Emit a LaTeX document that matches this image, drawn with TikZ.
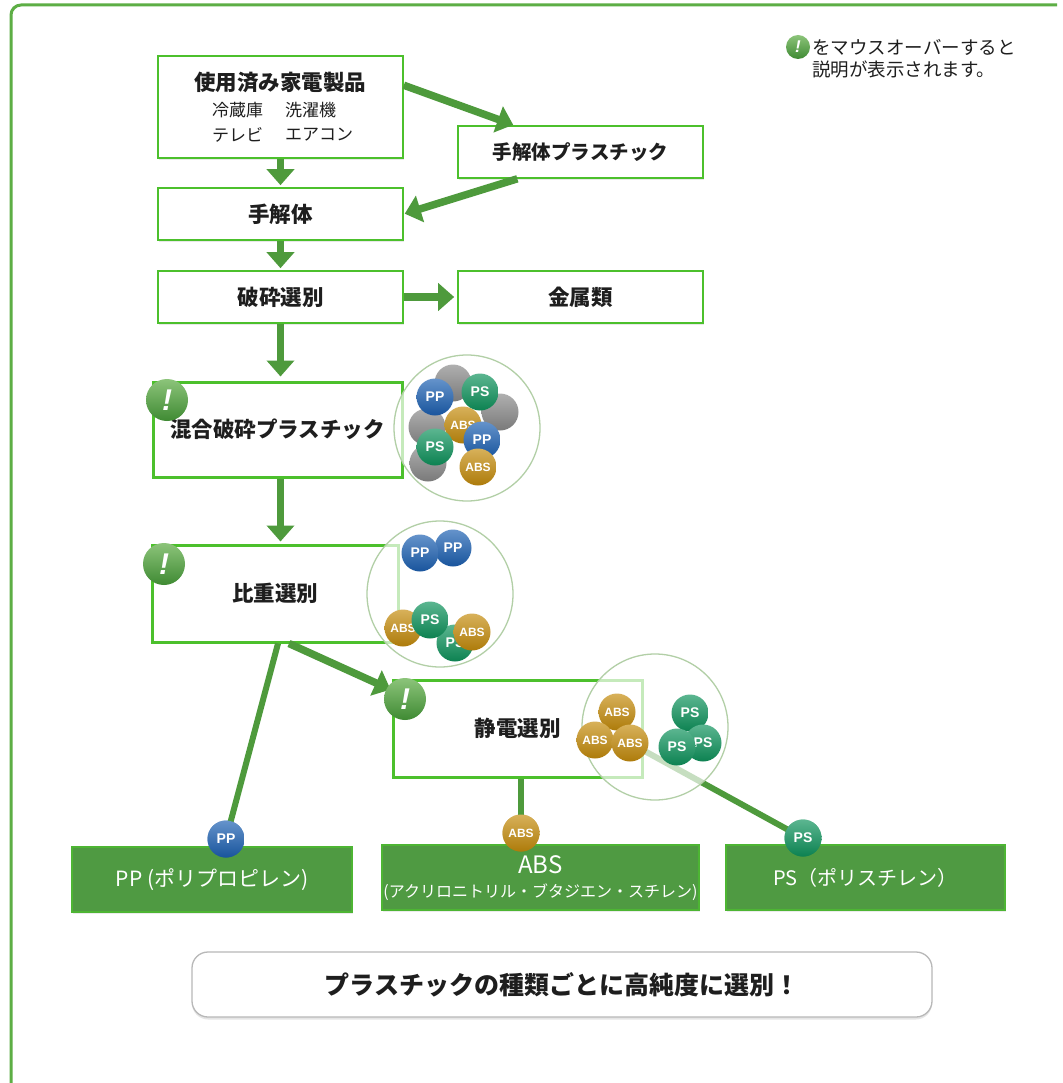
\documentclass[tikz,border=0pt]{standalone}
\usepackage{fontspec}
\setmainfont{Noto Sans CJK JP}
\newfontfamily\lsans{Liberation Sans}
\usetikzlibrary{arrows.meta,shadows,calc}

\definecolor{frameGreen}{HTML}{5DAE45}
\definecolor{boxGreen}{HTML}{4CC02C}
\definecolor{arrowGreen}{HTML}{4E9A3C}
\definecolor{fillGreen}{HTML}{4F9A42}
\definecolor{ppBlue}{HTML}{1C60B2}
\definecolor{psGreen}{HTML}{0E935C}
\definecolor{absGold}{HTML}{C58C0C}
\definecolor{stoneGray}{HTML}{8A8A8A}
\definecolor{txt}{HTML}{1E1E1E}
\definecolor{clusterEdge}{HTML}{B2CFA6}
\definecolor{alertLight}{HTML}{8CC47A}
\definecolor{alertDark}{HTML}{3F8A33}

\tikzset{
  frame/.style={draw=frameGreen, line width=3pt, rounded corners=10pt},
  flowbox/.style={draw=boxGreen, line width=1.6pt, fill=white, inner sep=0pt,
    text=txt, font=\bfseries\fontsize{21.5}{24}\selectfont,
    drop shadow={shadow xshift=1pt, shadow yshift=-2pt, opacity=0.18}},
  flowboxB/.style={flowbox, line width=3pt},
  resultbox/.style={fill=fillGreen, draw=boxGreen!70!fillGreen, line width=1.4pt,
    inner sep=0pt, text=white, font=\fontsize{21}{24}\selectfont,
    drop shadow={shadow xshift=1pt, shadow yshift=-2pt, opacity=0.15}},
  flowarrow/.style={draw=arrowGreen, line width=7.5pt, -{Triangle[width=27pt,length=16pt]}},
  feed/.style={draw=arrowGreen, line width=6pt},
  cluster/.style={circle, inner sep=0pt, minimum size=146pt, draw=clusterEdge,
    line width=1.3pt, fill=white, fill opacity=0.68},
  grain/.style={circle, inner sep=0pt, minimum size=37pt, text=white,
    font=\lsans\bfseries\fontsize{14}{14}\selectfont},
  grainCol/.style={grain, top color=#1!68!white, middle color=#1, bottom color=#1!88!black},
  grainPP/.style={grainCol=ppBlue},
  grainPS/.style={grainCol=psGreen},
  grainABS/.style={grainCol=absGold, font=\lsans\bfseries\fontsize{12}{12}\selectfont},
  grainGray/.style={grainCol=stoneGray},
  alert/.style={circle, inner sep=0pt, minimum size=42pt, shading angle=30,
    top color=alertLight, bottom color=alertDark, text=white,
    font=\lsans\bfseries\itshape\fontsize{30}{30}\selectfont},
  subtext/.style={inner sep=0pt, anchor=west, text=txt, font=\fontsize{17}{19}\selectfont},
  notetext/.style={inner sep=0pt, anchor=west, text=txt, font=\fontsize{18.5}{20}\selectfont},
}

\begin{document}
\begin{tikzpicture}[x=1pt, y=-1pt]
\useasboundingbox (0,0) rectangle (1062,1083);
\fill[white] (0,0) rectangle (1062,1083);

% outer frame
\draw[frame] (11,1095) -- (11,5) -- (1057,5);

% process boxes
\node[flowbox, minimum width=245pt, minimum height=102pt] (B1) at (280.5,107) {};
\node[inner sep=0pt, text=txt, font=\bfseries\fontsize{21.5}{24}\selectfont] (B1t) at (280,82) {使用済み家電製品};
\node[subtext] (B1a) at (212,110) {冷蔵庫};
\node[subtext] (B1b) at (285,110) {洗濯機};
\node[subtext] (B1c) at (212,135) {テレビ};
\node[subtext] (B1d) at (285,135) {エアコン};

\node[flowbox, minimum width=245pt, minimum height=52pt, font=\bfseries\fontsize{19.5}{22}\selectfont] (B2) at (580.5,152) {手解体プラスチック};
\node[flowbox, minimum width=245pt, minimum height=52pt] (B3) at (280.5,214) {手解体};
\node[flowbox, minimum width=245pt, minimum height=52pt] (B4) at (280.5,297) {破砕選別};
\node[flowbox, minimum width=245pt, minimum height=52pt] (B5) at (580.5,297) {金属類};
\node[flowboxB, minimum width=249pt, minimum height=95pt] (B6) at (277.5,429.5) {混合破砕プラスチック};
\node[flowboxB, minimum width=246pt, minimum height=97pt] (B7) at (275,593.5) {比重選別};
\node[flowboxB, minimum width=249pt, minimum height=97pt] (B8) at (517.5,728.5) {静電選別};

% result boxes
\node[resultbox, minimum width=280pt, minimum height=65pt] (RPP) at (212,879.5) {PP (ポリプロピレン)};
\node[resultbox, minimum width=317pt, minimum height=65pt] (RABS) at (540.5,877.5) {};
\node[inner sep=0pt, text=white, font=\fontsize{24}{26}\selectfont] (RABSa) at (540.5,865) {ABS};
\node[inner sep=0pt, text=white, font=\fontsize{16}{18}\selectfont] (RABSb) at (540.5,892) {(アクリロニトリル・ブタジエン・スチレン)};
\node[resultbox, minimum width=279pt, minimum height=65pt, font=\fontsize{20}{22}\selectfont] (RPS) at (865.5,877.5) {PS（ポリスチレン）};

% summary
\node[draw=black!28, line width=1.3pt, fill=white, rounded corners=16pt, inner sep=0pt,
  minimum width=740pt, minimum height=65pt, text=txt,
  font=\bfseries\fontsize{25}{28}\selectfont,
  drop shadow={shadow xshift=0pt, shadow yshift=-2.5pt, opacity=0.2}] (SUM) at (562,984.5)
  {プラスチックの種類ごとに高純度に選別！};

% flow arrows
\draw[flowarrow, shorten >=2pt] (B1.south) -- (B3.north);
\draw[flowarrow, shorten >=1pt] (B1.10) -- (B2.158);
\draw[flowarrow, shorten >=1pt] (B2.203) -- (B3.east);
\draw[flowarrow, shorten >=2pt] (B3.south) -- (B4.north);
\draw[flowarrow, shorten >=3pt] (B4.east) -- (B5.west);
\draw[flowarrow, shorten >=4pt] (B4.south) -- (B4.south |- B6.north);
\draw[flowarrow, shorten >=2pt] (B4.south |- B6.south) -- (B4.south |- B7.north);
\draw[flowarrow, shorten >=1pt] ($(B7.south)+(14,0)$) -- (B8.163);

% sorted outputs
\node[grainPP] (oPP) at (226,839) {PP};
\node[grainABS] (oABS) at (521,833) {ABS};
\node[grainPS] (oPS) at (803,838) {PS};
\coordinate (c3s) at (630,743);
\draw[feed] ($(B7.south)+(3,0)$) -- (oPP.center);
\draw[feed] (oABS |- B8.south) -- (oABS.center);
\draw[feed] (c3s) -- (oPS.center);
\node[grainPP] at (oPP) {PP};
\node[grainABS] at (oABS) {ABS};
\node[grainPS] at (oPS) {PS};

% mixed crushed plastic
\node[cluster] (C1) at (467,428) {};
\node[grainGray] (c1a) at (453,383) {};
\node[grainGray] (c1b) at (500,412) {};
\node[grainGray] (c1c) at (427,427) {};
\node[grainGray] (c1d) at (428,463) {};
\node[grainABS] (c1e) at (463,425) {ABS};
\node[grainPP] (c1f) at (435,397) {PP};
\node[grainPS] (c1g) at (480,392) {PS};
\node[grainPP] (c1h) at (482,440) {PP};
\node[grainPS] (c1i) at (435,447) {PS};
\node[grainABS] (c1j) at (478,467) {ABS};

% specific gravity separation
\node[cluster] (C2) at (440,594) {};
\node[grainPP] (c2a) at (453,548) {PP};
\node[grainPP] (c2b) at (420,553) {PP};
\node[grainPS] (c2c) at (455,643) {PS};
\node[grainABS] (c2d) at (403,628) {ABS};
\node[grainABS] (c2e) at (472,632) {ABS};
\node[grainPS] (c2f) at (430,620) {PS};

% electrostatic separation
\node[cluster] (C3) at (655,727) {};
\node[grainABS] (c3a) at (617,712) {ABS};
\node[grainABS] (c3b) at (595,740) {ABS};
\node[grainABS] (c3c) at (630,743) {ABS};
\node[grainPS] (c3d) at (690,713) {PS};
\node[grainPS] (c3e) at (703,743) {PS};
\node[grainPS] (c3f) at (677,747) {PS};

% info marks
\node[alert] (A1) at (167,400) {!};
\node[alert] (A2) at (164,564) {!};
\node[alert] (A3) at (405,699) {!};

% hint
\node[alert, minimum size=24pt, font=\lsans\bfseries\itshape\fontsize{17}{17}\selectfont] (A0) at (798,47) {!};
\node[notetext] (N1) at (812,47) {をマウスオーバーすると};
\node[notetext] (N2) at (812,69) {説明が表示されます。};
\end{tikzpicture}
\end{document}
